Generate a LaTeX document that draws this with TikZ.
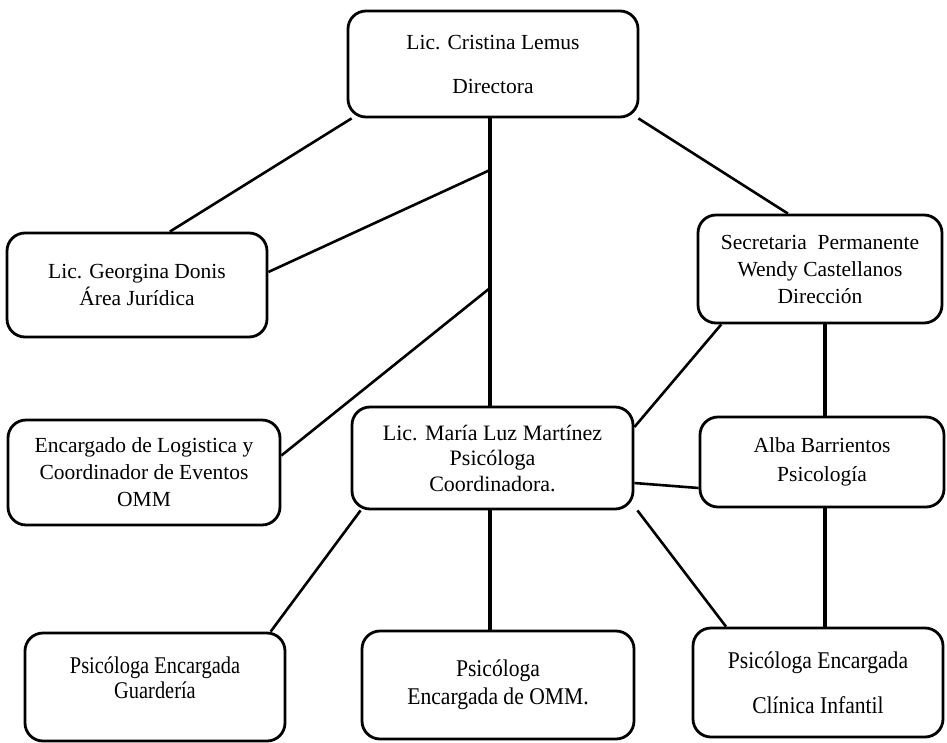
\documentclass[tikz,border=0pt]{standalone}
\usepackage{fontspec}
\setmainfont{Liberation Serif}
\newfontfamily\bottomserif[FakeStretch=0.9]{Liberation Serif}
\newfontfamily\narrowserif[FakeStretch=0.85]{Liberation Serif}
\usetikzlibrary{calc}
\begin{document}
\begin{tikzpicture}[x=1pt,y=-1pt,
  box/.style={draw, line width=2.8pt, rounded corners=18pt, align=center, inner sep=0pt,
    font=\fontsize{21.5}{27}\selectfont},
  link/.style={line width=2.6pt},
  trunk/.style={line width=3.2pt}]
\useasboundingbox (0,0) rectangle (947,742);
% boxes
\node[box, minimum width=290, minimum height=106] (dir) at (493,64) {Lic. Cristina Lemus\\[17pt]Directora};
\node[box, minimum width=260, minimum height=104] (geo) at (137,285) {Lic. Georgina Donis\\Área Jurídica};
\node[box, minimum width=244, minimum height=108] (sec) at (820,269) {Secretaria\ \ Permanente\\Wendy Castellanos\\Dirección};
\node[box, minimum width=272, minimum height=105] (log) at (144,472.5) {Encargado de Logistica y\\Coordinador de Eventos\\OMM};
\node[box, minimum width=281, minimum height=102, font=\fontsize{22}{25.5}\selectfont] (mar) at (492.5,458) {Lic. María Luz Martínez\\Psicóloga\\Coordinadora.};
\node[box, minimum width=244, minimum height=90, font=\fontsize{21.5}{29}\selectfont] (alba) at (822,462) {Alba Barrientos\\Psicología};
\node[box, minimum width=260, minimum height=108, font=\narrowserif\fontsize{24}{25}\selectfont] (gua) at (155,687) {Psicóloga Encargada\\Guardería\\[-6pt]\mbox{}};
\node[box, minimum width=272, minimum height=108, font=\bottomserif\fontsize{24}{28}\selectfont] (omm) at (498,685) {Psicóloga\\Encargada de OMM.};
\node[box, minimum width=250, minimum height=109, font=\bottomserif\fontsize{24}{45}\selectfont] (cli) at (818,682.5) {Psicóloga Encargada\\Clínica Infantil};
% junctions
\coordinate (t1) at (490,170);
\coordinate (t2) at (490,288);
\coordinate (t3) at (825,0);
% connectors
\draw[trunk] (t1 |- dir.south) -- (t1 |- mar.north);
\draw[link] ([xshift=5pt]dir.south west) -- ($(geo.north west)!0.625!(geo.north east)$);
\draw[link] ([yshift=13pt]geo.east) -- (t1);
\draw[link] ([yshift=17pt]log.east) -- (t2);
\draw[link] ([xshift=-1pt]dir.south east) -- ($(sec.north west)!0.37!(sec.north east)$);
\draw[link] ($(sec.south west)!0.1!(sec.south east)$) -- ([yshift=31pt]mar.east);
\draw[trunk] (t3 |- sec.south) -- (t3 |- alba.north);
\draw[link] ([yshift=-25pt]mar.east) -- ([yshift=-26pt]alba.west);
\draw[trunk] (t3 |- alba.south) -- (t3 |- cli.north);
\draw[link] ([xshift=10pt]mar.south west) -- ($(gua.north west)!0.94!(gua.north east)$);
\draw[trunk] (t1 |- mar.south) -- (t1 |- omm.north);
\draw[link] ([xshift=3pt]mar.south east) -- ($(cli.north west)!0.136!(cli.north east)$);
\end{tikzpicture}
\end{document}
